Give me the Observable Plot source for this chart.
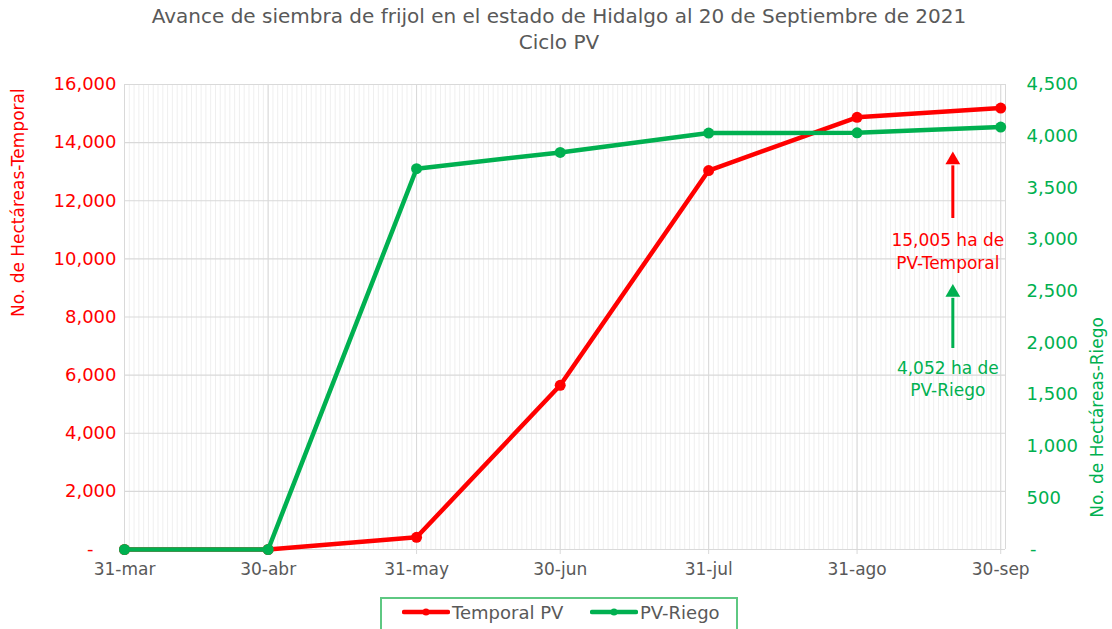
<!DOCTYPE html>
<html>
<head>
<meta charset="utf-8">
<script src="https://cdn.jsdelivr.net/npm/d3@7"></script>
<script src="https://cdn.jsdelivr.net/npm/@observablehq/plot@0.6"></script>
<style>
  html, body { margin: 0; padding: 0; background: #fff; }
  #page { position: relative; width: 1112px; height: 629px; overflow: hidden; font-family: "DejaVu Sans", sans-serif; }
  #title { position: absolute; left: 0; top: 3px; width: 1118px; text-align: center; color: #595959; font-size: 20px; line-height: 26px; }
  #chart { position: absolute; left: 0; top: 60px; }
  #legend { position: absolute; left: 380px; top: 597px; width: 358px; height: 40px; border: 2px solid #5ec882; box-sizing: border-box; color: #595959; font-size: 18px; }
  .item { position: absolute; top: 1px; display: flex; align-items: center; height: 24px; }
  .item svg { margin-right: 2px; }
</style>
</head>
<body>
<div id="page">
  <div id="title">Avance de siembra de frijol en el estado de Hidalgo al 20 de Septiembre de 2021<br>Ciclo PV</div>
  <div id="chart"></div>
  <div id="legend"></div>
</div>
<script>
// ---- data ----
const dates = ["2021-03-31", "2021-04-30", "2021-05-31", "2021-06-30", "2021-07-31", "2021-08-31", "2021-09-30"];
const tickLabels = ["31-mar", "30-abr", "31-may", "30-jun", "31-jul", "31-ago", "30-sep"];
const temporal = [0, 0, 420, 5650, 13040, 14870, 15190];
const riego = [0, 0, 3685, 3843, 4030, 4032, 4088];
const leftTicks = [0, 2000, 4000, 6000, 8000, 10000, 12000, 14000, 16000];
const rightTicks = [0, 500, 1000, 1500, 2000, 2500, 3000, 3500, 4000, 4500];
const seriesNames = ["Temporal PV", "PV-Riego"];
const axisTitles = ["No. de Hectáreas-Temporal", "No. de Hectáreas-Riego"];
const noteTexts = ["15,005 ha de\nPV-Temporal", "4,052 ha de\nPV-Riego"];
const noteDate = "2021-09-20";
const noteTextY = [10290, 5900];       // left-axis units
const noteArrowFrom = [11390, 6917];
const noteArrowTo = [13200, 8640];
const noteHead = [13400, 8840];

const RED = "#ff0000", GREEN = "#00b050";
const k = 16000 / 4500;
const fmtL = v => v === 0 ? "-\u00a0\u00a0\u00a0\u00a0" : d3.format(",")(v);
const fmtR = v => v === 0 ? "\u2009-" : d3.format(",")(v);

const parse = d3.utcParse("%Y-%m-%d");
const dateObjs = dates.map(parse);
const data = dateObjs.map((d, i) => ({date: d, temporal: temporal[i], riego: riego[i] * k}));
const labelOf = new Map(dateObjs.map((d, i) => [+d, tickLabels[i]]));
const xStart = dateObjs[0];
const xEnd = d3.utcDay.offset(dateObjs[dateObjs.length - 1], 1);
const days = d3.utcDay.range(xStart, d3.utcDay.offset(xEnd, 1));
const nd = parse(noteDate);
const notes = noteTexts.map((t, i) => ({date: nd, text: t, y: noteTextY[i], y1: noteArrowFrom[i], y2: noteArrowTo[i], h: noteHead[i], c: i === 0 ? RED : GREEN}));

const chart = Plot.plot({
  width: 1112,
  height: 525,
  marginLeft: 124,
  marginRight: 107,
  marginTop: 24,
  marginBottom: 36,
  x: {type: "utc", domain: [xStart, xEnd]},
  y: {domain: [0, 16000]},
  style: {fontFamily: "DejaVu Sans, sans-serif", fontSize: "17px", background: "#fff"},
  marks: [
    Plot.ruleX(days, {stroke: "#efefef", strokeWidth: 1}),
    Plot.ruleX(dateObjs, {stroke: "#d9d9d9", strokeWidth: 1}),
    Plot.ruleX([xEnd], {stroke: "#d9d9d9", strokeWidth: 1}),
    Plot.ruleY(leftTicks, {stroke: "#d9d9d9", strokeWidth: 1.2}),
    Plot.axisX(dateObjs, {tickFormat: d => labelOf.get(+d), tickSize: 5, stroke: "#d9d9d9", fill: "#595959", tickPadding: 8, label: null, fontSize: 17}),
    Plot.axisY(leftTicks, {anchor: "left", tickSize: 0, tickPadding: 8, fill: RED, tickFormat: fmtL, label: null, fontSize: 18}),
    Plot.axisY(rightTicks.map(v => v * k), {anchor: "right", tickSize: 0, tickPadding: 21, fill: GREEN, tickFormat: d => fmtR(Math.round(d / k)), label: null, fontSize: 18}),
    Plot.text([axisTitles[0]], {frameAnchor: "left", dx: -106, rotate: -90, fill: RED, fontSize: 17}),
    Plot.text([axisTitles[1]], {frameAnchor: "right", dx: 92, rotate: -90, fill: GREEN, fontSize: 17}),
    Plot.line(data, {x: "date", y: "temporal", stroke: RED, strokeWidth: 4.5}),
    Plot.dot(data, {x: "date", y: "temporal", fill: RED, r: 5.5}),
    Plot.line(data, {x: "date", y: "riego", stroke: GREEN, strokeWidth: 4.5}),
    Plot.dot(data, {x: "date", y: "riego", fill: GREEN, r: 5.5}),
    Plot.ruleX(notes, {x: "date", y1: "y1", y2: "y2", stroke: "c", strokeWidth: 3}),
    Plot.dot(notes, {x: "date", y: "h", symbol: "triangle", fill: "c", r: 5.5}),
    Plot.text(notes, {x: "date", y: "y", text: "text", fill: "c", fontSize: 17, lineHeight: 1.3, dx: -5})
  ]
});
document.getElementById("chart").appendChild(chart);

// legend
const legend = document.getElementById("legend");
const lx = [20, 208];
seriesNames.forEach((name, i) => {
  const c = i === 0 ? RED : GREEN;
  const item = document.createElement("div");
  item.className = "item";
  item.style.left = lx[i] + "px";
  item.innerHTML = `<svg width="48" height="12"><line x1="2" y1="6" x2="46" y2="6" stroke="${c}" stroke-width="4.5" stroke-linecap="round"/><circle cx="24" cy="6" r="3.5" fill="${c}"/></svg><span>${name}</span>`;
  legend.appendChild(item);
});
</script>
</body>
</html>
